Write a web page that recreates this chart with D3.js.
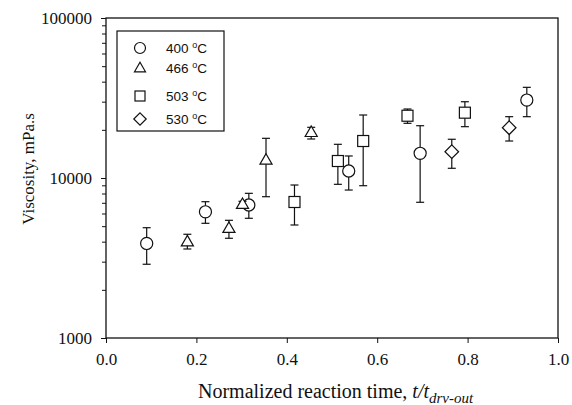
<!DOCTYPE html>
<html><head><meta charset="utf-8">
<script src="https://cdn.jsdelivr.net/npm/d3@7"></script>
<style>body{margin:0;background:#fff}svg{display:block}</style>
</head><body>
<svg id="c" width="572" height="405"></svg>
<script>
const seriesNames = ["400", "466", "503", "530"];
const symbols = ["circle", "triangle", "square", "diamond"];
const t400 = [0.090, 0.220, 0.316, 0.537, 0.695, 0.931];
const v400 = [3900, 6150, 6780, 11060, 14270, 30700];
const hi400 = [4890, 7110, 8020, 13730, 21220, 36870];
const lo400 = [2890, 5210, 5600, 8410, 7050, 24170];
const t466 = [0.180, 0.272, 0.302, 0.354, 0.454];
const v466 = [4000, 4850, 6850, 12950, 19300];
const hi466 = [4450, 5440, 7150, 17700, 20740];
const lo466 = [3600, 4200, 6600, 7640, 17530];
const t503 = [0.417, 0.513, 0.569, 0.667, 0.794];
const v503 = [7080, 12770, 17030, 24500, 25600];
const hi503 = [9040, 16240, 24760, 26990, 29970];
const lo503 = [5085, 9130, 8950, 21970, 20930];
const t530 = [0.765, 0.892];
const v530 = [14600, 20620];
const hi530 = [17460, 24170];
const lo530 = [11500, 17030];
const xTicks = [0.0, 0.2, 0.4, 0.6, 0.8, 1.0];
const yTicks = [1000, 10000, 100000];

const data = [
  {t: t400, v: v400, hi: hi400, lo: lo400},
  {t: t466, v: v466, hi: hi466, lo: lo466},
  {t: t503, v: v503, hi: hi503, lo: lo503},
  {t: t530, v: v530, hi: hi530, lo: lo530}
];

const svg = d3.select("#c");
const L = 106, R = 558, T = 18, B = 338;
const x = d3.scaleLinear().domain([0, 1]).range([L, R]);
const y = d3.scaleLog().domain([1000, 100000]).range([B, T]);
const ink = "#111";
const serif = "Liberation Serif, Times New Roman, serif";

// frame
svg.append("rect").attr("x", L).attr("y", T).attr("width", R - L).attr("height", B - T)
  .attr("fill", "none").attr("stroke", ink).attr("stroke-width", 1.3);

// x axis
const xa = svg.append("g").attr("transform", `translate(0,${B})`)
  .call(d3.axisBottom(x).tickValues(xTicks).tickFormat(d3.format(".1f")).tickSize(5).tickPadding(10));
xa.select(".domain").remove();
xa.selectAll("line").attr("stroke", ink);
xa.selectAll("text").attr("font-family", serif).attr("font-size", 17).attr("fill", ink);

// y axis
const minor = [];
for (let d = 1000; d < 100000; d *= 10) for (let k = 2; k <= 9; k++) minor.push(d * k);
const ya = svg.append("g").attr("transform", `translate(${L},0)`)
  .call(d3.axisLeft(y).tickValues(yTicks).tickFormat(d3.format("d")).tickSize(5).tickPadding(9));
ya.select(".domain").remove();
ya.selectAll("line").attr("stroke", ink);
ya.selectAll("text").attr("font-family", serif).attr("font-size", 17).attr("fill", ink);
svg.append("g").attr("transform", `translate(${L},0)`)
  .call(d3.axisLeft(y).tickValues(minor).tickFormat("").tickSize(4))
  .call(g => g.select(".domain").remove())
  .selectAll("line").attr("stroke", ink);

// axis labels
svg.append("text").attr("x", 198).attr("y", 398).attr("text-anchor", "start")
  .attr("font-family", serif).attr("font-size", 20).attr("fill", ink)
  .call(t => {
    t.append("tspan").text("Normalized reaction time, ");
    t.append("tspan").attr("font-style", "italic").text("t/t");
    t.append("tspan").attr("font-style", "italic").attr("font-size", 15).attr("dy", 5).text("drv-out");
  });
svg.append("text").attr("transform", "translate(34,169) rotate(-90)").attr("text-anchor", "middle")
  .attr("font-family", serif).attr("font-size", 17).attr("fill", ink)
  .text("Viscosity, mPa.s");

function marker(g, type, cx, cy, s) {
  let el;
  if (type === "circle") el = g.append("circle").attr("cx", cx).attr("cy", cy).attr("r", s * 0.55);
  else if (type === "square") el = g.append("rect").attr("x", cx - s / 2).attr("y", cy - s / 2).attr("width", s).attr("height", s);
  else if (type === "triangle") {
    const h = s * 0.95;
    el = g.append("path").attr("d", `M${cx},${cy - h * 0.6}L${cx + s * 0.55},${cy + h * 0.4}L${cx - s * 0.55},${cy + h * 0.4}Z`);
  } else {
    const r = s * 0.62;
    el = g.append("path").attr("d", `M${cx},${cy - r}L${cx + r},${cy}L${cx},${cy + r}L${cx - r},${cy}Z`);
  }
  el.attr("fill", "#fff").attr("stroke", ink).attr("stroke-width", 1.2);
}

// error bars and points
const plot = svg.append("g");
data.forEach((s, si) => {
  s.t.forEach((tv, i) => {
    const cx = x(tv);
    const g = plot.append("g");
    g.append("line").attr("x1", cx).attr("x2", cx).attr("y1", y(s.hi[i])).attr("y2", y(s.lo[i])).attr("stroke", ink).attr("stroke-width", 1.2);
    [s.hi[i], s.lo[i]].forEach(e => g.append("line").attr("x1", cx - 4).attr("x2", cx + 4).attr("y1", y(e)).attr("y2", y(e)).attr("stroke", ink).attr("stroke-width", 1.2));
    marker(g, symbols[si], cx, y(s.v[i]), 11);
  });
});

// legend
const lg = svg.append("g");
lg.append("rect").attr("x", 117).attr("y", 31).attr("width", 107).attr("height", 100)
  .attr("fill", "#fff").attr("stroke", ink).attr("stroke-width", 1.2);
const rowsY = [48, 68, 96, 119];
seriesNames.forEach((n, i) => {
  marker(lg, symbols[i], 140, rowsY[i], 10);
  const tx = lg.append("text").attr("x", 166).attr("y", rowsY[i] + 5)
    .attr("font-family", "Liberation Sans, Arial, sans-serif").attr("font-size", 13.5).attr("fill", ink);
  tx.append("tspan").text(n + " ");
  tx.append("tspan").attr("font-size", 9).attr("dy", -5).text("o");
  tx.append("tspan").attr("dy", 5).text("C");
});
</script>
</body></html>
